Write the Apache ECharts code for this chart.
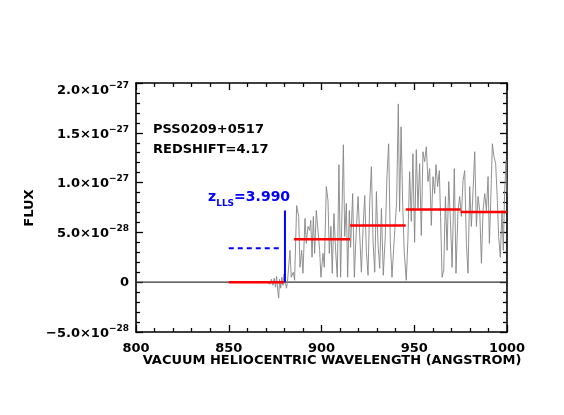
<!DOCTYPE html>
<html>
<head>
<meta charset="utf-8">
<script src="https://cdn.jsdelivr.net/npm/echarts@6/dist/echarts.min.js"></script>
<style>
html, body { margin: 0; padding: 0; background: #fff; }
#chart { width: 564px; height: 415px; }
</style>
</head>
<body>
<div id="chart"></div>
<script>
// spectrum, flux in units of 1e-28
const wavelength = [
  870.5, 871.5, 872.3, 873.0, 873.8, 874.5, 875.2, 875.8, 876.4, 876.9,
  877.4, 878.0, 878.6, 879.2, 879.8, 880.5, 881.1, 881.6, 883.0, 883.7,
  884.8, 885.5, 886.6, 887.7, 888.4, 889.3, 890.0, 891.1, 891.8, 892.7,
  893.6, 894.2, 894.9, 895.6, 896.3, 897.2, 898.1, 899.0, 899.7, 900.8,
  901.5, 902.6, 903.5, 904.2, 905.1, 905.8, 906.7, 907.6, 908.5, 909.4,
  910.3, 911.8, 912.5, 913.4, 914.1, 915.0, 915.7, 916.8, 917.7, 918.6,
  919.7, 920.2, 921.5, 922.4, 923.3, 924.2, 925.1, 926.0, 926.9, 927.8,
  928.7, 929.6, 930.5, 931.4, 932.3, 933.3, 934.4, 935.3, 936.2, 937.1,
  938.0, 938.9, 939.8, 940.5, 941.4, 942.1, 942.9, 943.8, 944.6, 945.7,
  946.6, 947.5, 948.4, 949.3, 950.2, 951.1, 952.0, 952.9, 953.8, 954.7,
  955.6, 956.5, 957.4, 958.3, 959.2, 960.1, 961.0, 961.7, 962.6, 963.5,
  964.2, 965.0, 965.9, 966.8, 967.7, 968.6, 969.5, 970.4, 971.6, 972.5,
  973.6, 974.5, 975.4, 976.3, 977.2, 978.1, 979.0, 979.9, 980.8, 981.7,
  982.6, 983.5, 984.4, 985.3, 986.2, 987.1, 988.0, 988.9, 989.8, 990.5,
  991.2, 992.1, 993.0, 993.9, 994.8, 995.5, 996.4, 997.3, 998.0, 998.7,
  999.5, 1000.0
];
const flux = [
  0.0, 0.1, -0.2, 0.3, -0.3, 0.4, -0.5, 0.6, -0.8, -1.6,
  0.3, -0.6, 0.5, -0.3, 0.8, 0.9, -0.6, -0.1, 3.2, 0.5,
  1.0, 0.2, 7.7, 6.6, 1.5, 3.2, 0.9, 6.4, 3.9, 5.6,
  5.2, 6.2, 2.5, 6.6, 2.9, 7.2, 7.4, 3.2, 0.5, 2.9,
  1.5, 9.6, 8.2, 2.9, 5.6, 0.9, 6.9, 3.2, 0.5, 11.8,
  0.5, 13.8, 4.6, 7.9, 0.5, 7.2, 3.5, 8.9, 0.5, 4.6,
  8.6, 8.7, 1.0, 5.4, 8.7, 3.0, 0.7, 8.1, 11.6, 4.0,
  1.0, 9.1, 3.7, 1.4, 7.4, 0.7, 4.7, 10.7, 13.9, 4.0,
  0.5, 3.4, 6.1, 8.1, 17.9, 7.1, 15.6, 7.7, 3.0, 0.2,
  4.4, 11.1, 6.1, 12.9, 4.0, 13.3, 7.4, 11.9, 4.7, 13.1,
  12.1, 13.6, 10.1, 11.4, 5.7, 10.6, 8.9, 11.8, 9.6, 11.2,
  6.6, 0.5, 1.2, 8.6, 3.2, 10.1, 6.2, 1.5, 11.4, 0.9,
  7.2, 8.6, 6.6, 10.2, 11.2, 3.9, 0.9, 9.6, 5.6, 9.2,
  13.1, 5.6, 8.6, 7.2, 1.9, 7.2, 8.9, 7.2, 10.6, 3.9,
  7.9, 13.9, 12.6, 11.9, 8.2, 4.6, 2.5, 7.2, 3.2, 8.9,
  12.2, 9.0
];

// mean flux levels (red)
const levelStart = [850, 885.2, 915.4, 945.4, 975.0];
const levelEnd = [880, 915.4, 945.4, 975.0, 1000];
const levelFlux = [0, 4.3, 5.7, 7.3, 7.05];

// Lyman limit marker (blue)
const llsWave = 880.3;
const llsTop = 7.2;
const llsDashStart = 850;
const llsDashEnd = 878.5;
const llsDashFlux = 3.4;

const yTickValues = [-5, 0, 5, 10, 15, 20];
const yTickMantissa = ['\u22125.0', '0', '5.0', '1.0', '1.5', '2.0'];
const yTickExponent = ['\u221228', '', '\u221228', '\u221227', '\u221227', '\u221227'];

const FONT = '"DejaVu Sans", sans-serif';

let chart = echarts.init(document.getElementById('chart'));

let spectrum = wavelength.map((w, i) => [w, flux[i]]);

let seriesData = [];
seriesData.push({
  type: 'line',
  data: [[800, 0], [1000, 0]],
  symbol: 'none',
  lineStyle: { color: '#333', width: 1.3 },
  silent: true,
  z: 1
});
seriesData.push({
  type: 'line',
  data: spectrum,
  symbol: 'none',
  lineStyle: { color: '#858585', width: 0.9 },
  silent: true,
  z: 2
});
levelStart.forEach((s, i) => {
  seriesData.push({
    type: 'line',
    data: [[s, levelFlux[i]], [levelEnd[i], levelFlux[i]]],
    symbol: 'none',
    lineStyle: { color: '#ff0000', width: 2.5 },
    silent: true,
    z: 4
  });
});
seriesData.push({
  type: 'line',
  data: [[llsWave, 0], [llsWave, llsTop]],
  symbol: 'none',
  lineStyle: { color: '#0000ff', width: 2 },
  silent: true,
  z: 5
});
seriesData.push({
  type: 'line',
  data: [[llsDashStart, llsDashFlux], [llsDashEnd, llsDashFlux]],
  symbol: 'none',
  lineStyle: { color: '#0000ff', width: 2, type: [5, 4] },
  silent: true,
  z: 5
});

let tickStyle = { show: true, inside: true, length: 7, lineStyle: { color: '#000', width: 1.3 } };
let minorStyle = { show: true, splitNumber: 5, length: 4, lineStyle: { color: '#000', width: 1.3 } };
let lineStyle = { show: true, onZero: false, lineStyle: { color: '#000', width: 1.6 } };

chart.setOption({
  animation: false,
  grid: { left: 136, right: 57, top: 83, bottom: 83 },
  xAxis: [{
    type: 'value', min: 800, max: 1000, interval: 50,
    axisLine: lineStyle, axisTick: tickStyle, minorTick: minorStyle,
    splitLine: { show: false },
    axisLabel: {
      margin: 10, color: '#000', fontSize: 13, fontWeight: 'bold', fontFamily: FONT,
      formatter: v => String(v)
    }
  }, {
    type: 'value', position: 'top', min: 800, max: 1000, interval: 50,
    axisLine: lineStyle, axisTick: tickStyle, minorTick: minorStyle,
    splitLine: { show: false }, axisLabel: { show: false }
  }],
  yAxis: [{
    type: 'value', min: -5, max: 20, interval: 5,
    axisLine: lineStyle, axisTick: tickStyle, minorTick: minorStyle,
    splitLine: { show: false },
    axisLabel: {
      margin: 7,
      formatter: function (v) {
        let i = yTickValues.indexOf(v);
        if (i < 0) return '';
        if (!yTickExponent[i]) return '{m|' + yTickMantissa[i] + '}';
        if (v === 20) return '{mt|' + yTickMantissa[i] + '\u00d710}{et|' + yTickExponent[i] + '}';
        return '{m|' + yTickMantissa[i] + '\u00d710}{e|' + yTickExponent[i] + '}';
      },
      rich: {
        m: { fontSize: 13, fontWeight: 'bold', fontFamily: FONT, color: '#000', verticalAlign: 'bottom' },
        e: { fontSize: 9, fontWeight: 'bold', fontFamily: FONT, color: '#000', verticalAlign: 'bottom', padding: [0, 0, 7, 0] },
        mt: { fontSize: 13, fontWeight: 'bold', fontFamily: FONT, color: '#000', verticalAlign: 'bottom', padding: [12, 0, 0, 0] },
        et: { fontSize: 9, fontWeight: 'bold', fontFamily: FONT, color: '#000', verticalAlign: 'bottom', padding: [12, 0, 7, 0] }
      }
    }
  }, {
    type: 'value', position: 'right', min: -5, max: 20, interval: 5,
    axisLine: lineStyle, axisTick: tickStyle, minorTick: minorStyle,
    splitLine: { show: false }, axisLabel: { show: false }
  }],
  graphic: [{
    type: 'text', x: 30, y: 208, rotation: Math.PI / 2,
    style: { text: 'FLUX', font: 'bold 13px ' + FONT, align: 'center', verticalAlign: 'middle', fill: '#000' }
  }, {
    type: 'text', x: 332, y: 361,
    style: { text: 'VACUUM HELIOCENTRIC WAVELENGTH (ANGSTROM)', font: 'bold 13px ' + FONT, align: 'center', verticalAlign: 'middle', fill: '#000' }
  }, {
    type: 'text', x: 153, y: 130,
    style: { text: 'PSS0209+0517', font: 'bold 13px ' + FONT, align: 'left', verticalAlign: 'middle', fill: '#000' }
  }, {
    type: 'text', x: 153, y: 150,
    style: { text: 'REDSHIFT=4.17', font: 'bold 13px ' + FONT, align: 'left', verticalAlign: 'middle', fill: '#000' }
  }, {
    type: 'text', x: 208, y: 199,
    style: {
      text: '{a|z}{b|LLS}{a|=3.990}',
      align: 'left', verticalAlign: 'middle',
      rich: {
        a: { fontSize: 14, fontWeight: 'bold', fontFamily: FONT, fill: '#0000ff', color: '#0000ff', verticalAlign: 'top' },
        b: { fontSize: 9, fontWeight: 'bold', fontFamily: FONT, fill: '#0000ff', color: '#0000ff', verticalAlign: 'top', padding: [9, 0, 0, 0] }
      }
    }
  }],
  series: seriesData
});
</script>
</body>
</html>
